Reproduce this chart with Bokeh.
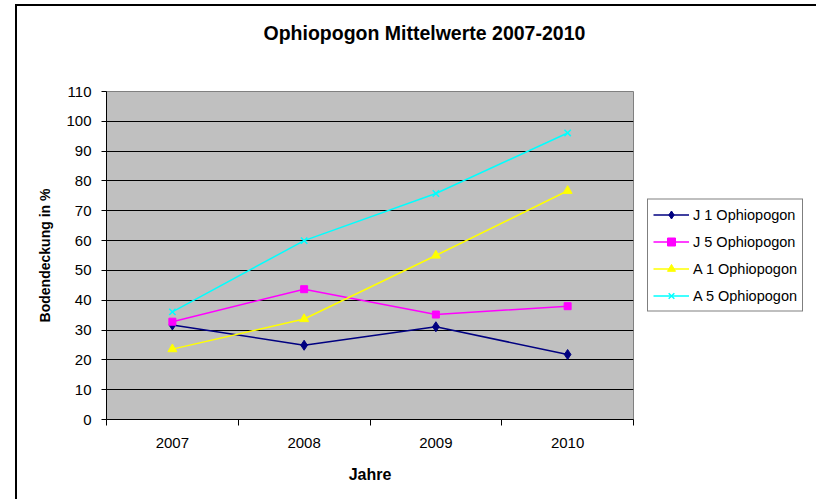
from bokeh.plotting import figure
from bokeh.models import (Range1d, FixedTicker, Legend, LegendItem, Title)
from bokeh.embed import file_html
from bokeh.resources import INLINE

years = ["2007", "2008", "2009", "2010"]
j1 = [31.7, 24.9, 31.1, 21.8]
j5 = [32.8, 43.7, 35.2, 38.0]
a1 = [23.6, 33.7, 55.0, 76.7]
a5 = [36.1, 60.0, 75.8, 96.1]
series_names = ["J 1 Ophiopogon", "J 5 Ophiopogon", "A 1 Ophiopogon", "A 5 Ophiopogon"]
y_ticks = list(range(0, 111, 10))
title_text = "Ophiopogon Mittelwerte 2007-2010"

FONT = "Liberation Sans"

xs = [i + 0.5 for i in range(len(years))]

p = figure(frame_width=527, frame_height=328, output_backend="svg", toolbar_location=None,
           x_range=Range1d(0, len(years)), y_range=Range1d(0, 110),
           title=title_text,
           min_border_left=89, min_border_right=0, min_border_top=85,
           min_border_bottom=80)
p.styles = {"margin-left": "15px", "margin-top": "4px",
            "border-left": "2px solid black", "border-top": "2px solid black"}

p.background_fill_color = "#C0C0C0"
p.border_fill_color = "white"
p.outline_line_color = "#808080"
p.outline_line_width = 1

# title (outermost) and a blank spacer between it and the frame
p.title.align = "left"
p.title.offset = 157
p.title.text_font = FONT
p.title.text_font_size = "19.5px"
p.title.text_font_style = "bold"
p.title.text_color = "black"
p.title.standoff = 10
p.add_layout(Title(text=" ", text_font_size="13px", standoff=26), "above")

# grid
p.xgrid.grid_line_color = None
p.ygrid.grid_line_color = "black"
p.ygrid.grid_line_width = 1
p.ygrid.ticker = FixedTicker(ticks=y_ticks)

# y axis
p.yaxis.ticker = FixedTicker(ticks=y_ticks)
p.yaxis.axis_label = "Bodendeckung in %"
p.yaxis.axis_label_text_font = FONT
p.yaxis.axis_label_text_font_style = "bold"
p.yaxis.axis_label_text_font_size = "14px"
p.yaxis.axis_label_text_color = "black"
p.yaxis.axis_label_standoff = 10
p.yaxis.major_label_text_font = FONT
p.yaxis.major_label_text_font_size = "15px"
p.yaxis.major_label_text_color = "black"
p.yaxis.major_tick_out = 5
p.yaxis.major_tick_in = 0
p.yaxis.minor_tick_out = 0
p.yaxis.minor_tick_in = 0
p.yaxis.major_label_standoff = 10
p.yaxis.axis_line_color = "black"
p.yaxis.major_tick_line_color = "black"

# x axis
p.xaxis.ticker = FixedTicker(ticks=xs, minor_ticks=list(range(len(years) + 1)))
p.xaxis.major_label_overrides = {x: y for x, y in zip(xs, years)}
p.xaxis.axis_label = "Jahre"
p.xaxis.axis_label_text_font = FONT
p.xaxis.axis_label_text_font_style = "bold"
p.xaxis.axis_label_text_font_size = "16px"
p.xaxis.axis_label_text_color = "black"
p.xaxis.axis_label_standoff = 15
p.xaxis.major_label_text_font = FONT
p.xaxis.major_label_text_font_size = "15px"
p.xaxis.major_label_text_color = "black"
p.xaxis.major_tick_out = 0
p.xaxis.major_tick_in = 0
p.xaxis.minor_tick_out = 6
p.xaxis.minor_tick_in = 0
p.xaxis.minor_tick_line_color = "black"
p.xaxis.major_label_standoff = 12
p.xaxis.axis_line_color = "black"

specs = [
    (j1, "#000080", "diamond", 10),
    (j5, "#FF00FF", "square", 7),
    (a1, "#FFFF00", "triangle", 9),
    (a5, "#00FFFF", "x", 9),
]
items = []
for (vals, color, marker, size), name in zip(specs, series_names):
    l = p.line(xs, vals, line_color=color, line_width=1.5)
    s = p.scatter(xs, vals, marker=marker, size=size, fill_color=color,
                  line_color=color, line_width=1.5 if marker == "x" else 1)
    items.append(LegendItem(label=name, renderers=[l, s]))

legend = Legend(items=items, location="center_left",
                background_fill_color="white", background_fill_alpha=1,
                border_line_color="black", border_line_width=1,
                label_text_font=FONT, label_text_font_size="14.5px",
                label_text_color="black",
                glyph_width=36, glyph_height=20, spacing=7, padding=5,
                label_standoff=4, margin=14)
p.add_layout(legend, "right")

open("out.html", "w").write(file_html(p, INLINE))
